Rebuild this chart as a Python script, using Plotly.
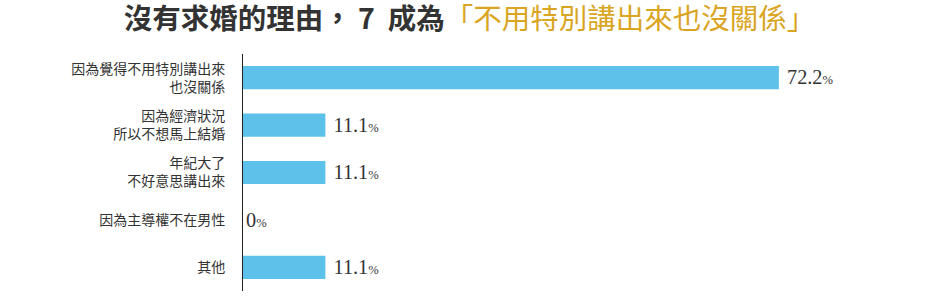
import plotly.graph_objects as go

categories = ["因為覺得不用特別講出來<br>也沒關係", "因為經濟狀況<br>所以不想馬上結婚", "年紀大了<br>不好意思講出來", "因為主導權不在男性", "其他"]
values = [72.2, 11.1, 11.1, 0, 11.1]
value_labels = ["72.2", "11.1", "11.1", "0", "11.1"]

texts = [(" " if v > 0 else "") + f"{lab}<span style='font-size:13px'>%</span>"
         for v, lab in zip(values, value_labels)]

fig = go.Figure(go.Bar(
    y=categories, x=values, orientation="h",
    marker=dict(color="#5ec1ea", line=dict(width=0)),
    width=0.49,
    text=texts, textposition="outside", cliponaxis=False,
    textfont=dict(family="Liberation Serif, DejaVu Serif, serif", size=21, color="#333333"),
    hoverinfo="skip",
))

fig.update_layout(
    width=939, height=300,
    margin=dict(l=243, r=28, t=54, b=9, autoexpand=False),
    paper_bgcolor="white", plot_bgcolor="white",
    showlegend=False,
    title=dict(
        text="<b>沒有求婚的理由，&nbsp;7&nbsp;&nbsp;成為</b><span style='color:#d9a523'>「不用特別講出來也沒關係」</span>",
        x=0.5, xanchor="center", y=0.935, yanchor="middle",
        font=dict(family="Noto Sans CJK TC", size=28.5, color="#333333"),
    ),
    xaxis=dict(range=[0, 90], visible=False, fixedrange=True, automargin=False),
    yaxis=dict(
        autorange=False, range=[4.5, -0.5], automargin=False, fixedrange=True,
        showline=True, linecolor="#222222", linewidth=1,
        showgrid=False, zeroline=False,
        ticks="outside", ticklen=14, tickcolor="rgba(0,0,0,0)",
        tickfont=dict(family="Noto Sans CJK TC", size=14, color="#333333"),
    ),
)

fig.write_html("out.html", config={"displayModeBar": False},
               post_script="document.body.style.margin='0';")
